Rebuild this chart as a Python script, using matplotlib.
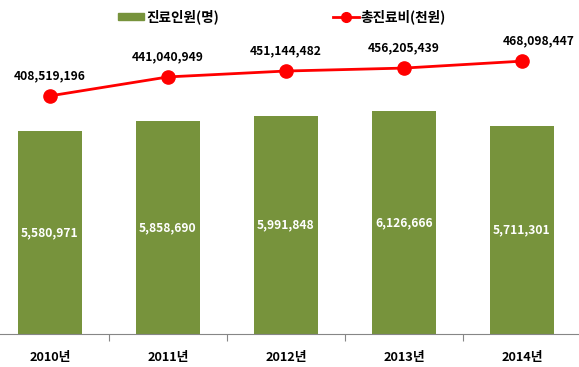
import matplotlib
matplotlib.use('Agg')
import matplotlib.pyplot as plt
from matplotlib.patches import Patch
from matplotlib.lines import Line2D

years = ['2010년', '2011년', '2012년', '2013년', '2014년']
patients = [5580971, 5858690, 5991848, 6126666, 5711301]
costs = [408519196, 441040949, 451144482, 456205439, 468098447]

plt.rcParams['font.family'] = ['Noto Sans CJK KR', 'DejaVu Sans']

BAR_COLOR = '#77933C'
LINE_COLOR = '#FF0000'
AXIS_COLOR = '#868686'

fig = plt.figure(figsize=(5.79, 3.67), dpi=100)
ax = fig.add_axes([0, 33 / 367, 1, 334 / 367])
x = list(range(len(years)))
ax.bar(x, patients, width=0.55, color=BAR_COLOR, zorder=2)
ax.set_xlim(-50 / 118, 529 / 118)
ax.set_ylim(0, 9.18e6)
for xi, v in zip(x, patients):
    ax.text(xi, v / 2, f'{v:,}', ha='center', va='center', color='white',
            fontsize=8.7, fontweight='bold')

for s in ['top', 'left', 'right']:
    ax.spines[s].set_visible(False)
ax.spines['bottom'].set_color(AXIS_COLOR)
ax.spines['bottom'].set_linewidth(0.8)
ax.set_yticks([])
ax.set_xticks(x)
ax.set_xticklabels(years, fontweight='bold', fontsize=9.2)
ax.tick_params(axis='x', which='major', length=0, pad=12)
ax.set_xticks([0.5, 1.5, 2.5, 3.5], minor=True)
ax.tick_params(axis='x', which='minor', length=5, color=AXIS_COLOR, width=0.8, direction='out')

ax2 = ax.twinx()
ax2.plot(x, costs, color=LINE_COLOR, lw=2, marker='o', ms=9.5, zorder=3)
ax2.set_ylim(0, 573e6)
ax2.set_yticks([])
for s in ax2.spines.values():
    s.set_visible(False)
for i, (xi, v) in enumerate(zip(x, costs)):
    dx = 12 if i == len(costs) - 1 else 0
    ax2.annotate(f'{v:,}', (xi, v), xytext=(dx, 14.4), textcoords='offset points',
                 ha='center', va='center', fontsize=8.7, fontweight='bold', color='black')

handles = [Patch(color=BAR_COLOR, label='진료인원(명)'),
           Line2D([], [], color=LINE_COLOR, lw=2, marker='o', ms=7, label='총진료비(천원)')]
fig.legend(handles=handles, loc='center left', bbox_to_anchor=(118 / 579, 1 - 17 / 367),
           ncol=2, frameon=False, handlelength=1.9, handleheight=0.45, handletextpad=0.15,
           columnspacing=8.4, borderpad=0, borderaxespad=0,
           prop=dict(weight='bold', size=9.8))

fig.savefig('out.png', dpi=100)
